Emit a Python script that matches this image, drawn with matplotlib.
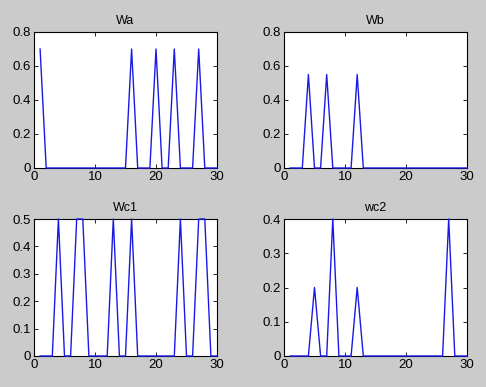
import numpy as np
import matplotlib
matplotlib.use("Agg")
import matplotlib.pyplot as plt
from matplotlib.ticker import FormatStrFormatter

# sample index 1..30
x = list(range(1, 31))

# peaks (position -> height), every other sample is zero
wa_peaks = {1: 0.7, 16: 0.7, 20: 0.7, 23: 0.7, 27: 0.7}
wb_peaks = {4: 0.55, 7: 0.55, 12: 0.55}
wc1_peaks = {4: 0.5, 7: 0.5, 8: 0.5, 13: 0.5, 16: 0.5, 24: 0.5, 27: 0.5, 28: 0.5}
wc2_peaks = {5: 0.2, 8: 0.4, 12: 0.2, 27: 0.4}

wa = [wa_peaks.get(i, 0.0) for i in x]
wb = [wb_peaks.get(i, 0.0) for i in x]
wc1 = [wc1_peaks.get(i, 0.0) for i in x]
wc2 = [wc2_peaks.get(i, 0.0) for i in x]

titles = ["Wa", "Wb", "Wc1", "wc2"]
series = [wa, wb, wc1, wc2]
ymaxes = [0.8, 0.8, 0.5, 0.4]
ysteps = [0.2, 0.2, 0.1, 0.1]

plt.rcParams["font.family"] = ["Liberation Sans", "DejaVu Sans"]
bg = "#cbcbcb"
fig = plt.figure(figsize=(4.86, 3.87), dpi=100, facecolor=bg)

W, H = 486.0, 387.0
boxes = [
    (34, 32, 217, 168),
    (284, 32, 467, 168),
    (34, 219, 217, 356),
    (284, 219, 467, 356),
]

for (l, t, r, b), title, y, ymax, ystep in zip(boxes, titles, series, ymaxes, ysteps):
    ax = fig.add_axes([l / W, 1 - b / H, (r - l) / W, (b - t) / H])
    ax.plot(x, y, color="#1a1ae6", linewidth=1.0, clip_on=False, zorder=3)
    ax.set_xlim(0, 30)
    ax.set_ylim(0, ymax)
    ax.set_xticks([0, 10, 20, 30])
    ax.set_yticks(np.arange(0, ymax + ystep / 2, ystep))
    ax.yaxis.set_major_formatter(FormatStrFormatter("%g"))
    ax.tick_params(direction="in", top=True, right=True, length=3,
                   width=0.6, labelsize=9.5, pad=2, colors="black")
    for s in ax.spines.values():
        s.set_linewidth(0.8)
    ax.set_facecolor("white")
    ax.set_title(title, fontsize=9, pad=6)

fig.savefig("out.png", dpi=100, facecolor=bg)
